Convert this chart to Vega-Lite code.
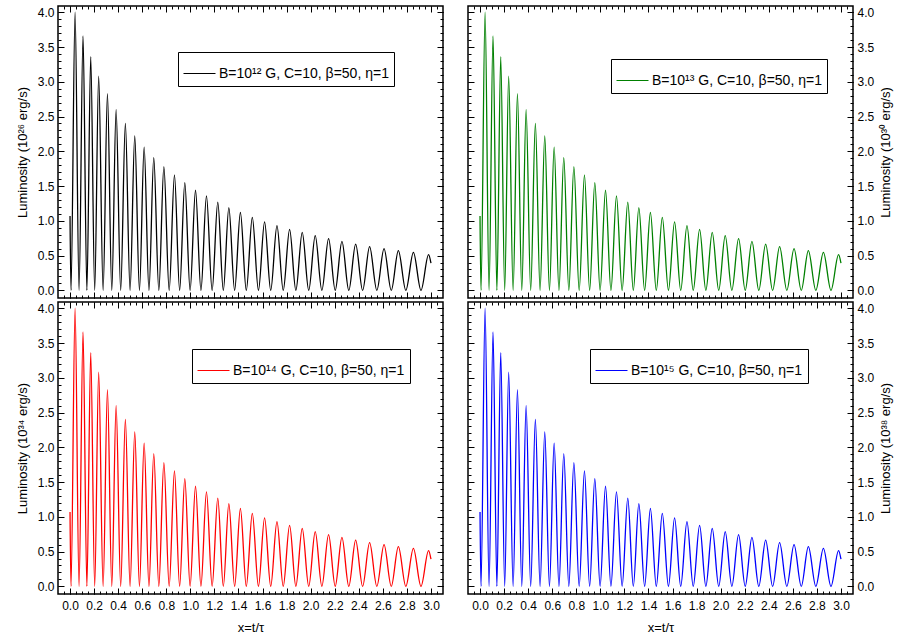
{
  "$schema": "https://vega.github.io/schema/vega-lite/v6.json",
  "background": "white",
  "padding": {"left": 15, "top": 4, "right": 0, "bottom": 0},
  "datasets": {
    "curve": [
      {"x": 0.000, "y": 1.07}, {"x": 0.008, "y": 0}, {"x": 0.042, "y": 4.00}, {"x": 0.075, "y": 0},
      {"x": 0.108, "y": 3.66}, {"x": 0.140, "y": 0}, {"x": 0.172, "y": 3.36}, {"x": 0.205, "y": 0},
      {"x": 0.238, "y": 3.08}, {"x": 0.275, "y": 0}, {"x": 0.311, "y": 2.83}, {"x": 0.347, "y": 0},
      {"x": 0.383, "y": 2.60}, {"x": 0.421, "y": 0}, {"x": 0.460, "y": 2.40}, {"x": 0.499, "y": 0},
      {"x": 0.538, "y": 2.22}, {"x": 0.577, "y": 0}, {"x": 0.616, "y": 2.06}, {"x": 0.656, "y": 0},
      {"x": 0.696, "y": 1.91}, {"x": 0.738, "y": 0}, {"x": 0.780, "y": 1.78}, {"x": 0.824, "y": 0},
      {"x": 0.868, "y": 1.66}, {"x": 0.911, "y": 0}, {"x": 0.954, "y": 1.55}, {"x": 0.998, "y": 0},
      {"x": 1.043, "y": 1.44}, {"x": 1.088, "y": 0}, {"x": 1.134, "y": 1.36}, {"x": 1.181, "y": 0},
      {"x": 1.228, "y": 1.27}, {"x": 1.274, "y": 0}, {"x": 1.320, "y": 1.19}, {"x": 1.368, "y": 0},
      {"x": 1.416, "y": 1.12}, {"x": 1.465, "y": 0}, {"x": 1.515, "y": 1.05}, {"x": 1.566, "y": 0},
      {"x": 1.617, "y": 0.985}, {"x": 1.668, "y": 0}, {"x": 1.720, "y": 0.93}, {"x": 1.772, "y": 0},
      {"x": 1.825, "y": 0.876}, {"x": 1.877, "y": 0}, {"x": 1.930, "y": 0.833}, {"x": 1.984, "y": 0},
      {"x": 2.038, "y": 0.786}, {"x": 2.093, "y": 0}, {"x": 2.149, "y": 0.743}, {"x": 2.204, "y": 0},
      {"x": 2.260, "y": 0.704}, {"x": 2.317, "y": 0}, {"x": 2.374, "y": 0.666}, {"x": 2.432, "y": 0},
      {"x": 2.490, "y": 0.628}, {"x": 2.550, "y": 0}, {"x": 2.610, "y": 0.600}, {"x": 2.670, "y": 0},
      {"x": 2.729, "y": 0.571}, {"x": 2.791, "y": 0}, {"x": 2.854, "y": 0.547}, {"x": 2.917, "y": 0},
      {"x": 2.980, "y": 0.514}, {"x": 3.000, "y": 0.39}
    ]
  },
  "vconcat": [
    {
      "spacing": 21,
      "resolve": {"scale": {"color": "independent"}, "legend": {"color": "independent"}},
      "hconcat": [
        {
          "width": 385, "height": 292,
          "data": {"name": "curve"},
          "layer": [
            {
              "mark": {"type": "line", "interpolate": "monotone", "strokeWidth": 1.3},
              "encoding": {
                "x": {"field": "x", "type": "quantitative", "scale": {"domain": [-0.1, 3.1], "nice": false, "zero": false},
                      "axis": {"orient": "bottom", "values": [0,0.2,0.4,0.6,0.8,1,1.2,1.4,1.6,1.8,2,2.2,2.4,2.6,2.8,3], "tickSize": -6, "labels": false, "title": null}},
                "y": {"field": "y", "type": "quantitative", "scale": {"domain": [-0.11, 4.09], "nice": false, "zero": false},
                      "axis": {"orient": "left", "values": [0,0.5,1,1.5,2,2.5,3,3.5,4], "format": ".1f", "tickSize": -6, "labelPadding": 10, "title": "Luminosity (10²⁶ erg/s)", "titlePadding": 8}},
                "color": {"datum": "B=10¹² G, C=10, β=50, η=1", "type": "nominal", "scale": {"range": ["#000000"]},
                          "legend": {"title": null, "orient": "none", "legendX": 120, "legendY": 46}}
              }
            },
            {
              "mark": {"type": "line", "strokeOpacity": 0},
              "encoding": {
                "x": {"field": "x", "type": "quantitative", "axis": {"orient": "bottom", "values": [-0.05,0,0.05,0.1,0.15,0.2,0.25,0.3,0.35,0.4,0.45,0.5,0.55,0.6,0.65,0.7,0.75,0.8,0.85,0.9,0.95,1,1.05,1.1,1.15,1.2,1.25,1.3,1.35,1.4,1.45,1.5,1.55,1.6,1.65,1.7,1.75,1.8,1.85,1.9,1.95,2,2.05,2.1,2.15,2.2,2.25,2.3,2.35,2.4,2.45,2.5,2.55,2.6,2.65,2.7,2.75,2.8,2.85,2.9,2.95,3,3.05], "tickSize": -3, "labels": false, "title": null}},
                "y": {"field": "y", "type": "quantitative", "axis": {"orient": "left", "values": [0,0.1,0.2,0.3,0.4,0.5,0.6,0.7,0.8,0.9,1,1.1,1.2,1.3,1.4,1.5,1.6,1.7,1.8,1.9,2,2.1,2.2,2.3,2.4,2.5,2.6,2.7,2.8,2.9,3,3.1,3.2,3.3,3.4,3.5,3.6,3.7,3.8,3.9,4], "tickSize": -3, "labels": false, "title": null}}
              }
            },
            {
              "mark": {"type": "line", "strokeOpacity": 0},
              "encoding": {
                "x": {"field": "x", "type": "quantitative", "axis": {"orient": "top", "values": [0,0.2,0.4,0.6,0.8,1,1.2,1.4,1.6,1.8,2,2.2,2.4,2.6,2.8,3], "tickSize": -6, "labels": false, "title": null}},
                "y": {"field": "y", "type": "quantitative", "axis": {"orient": "right", "values": [0,0.5,1,1.5,2,2.5,3,3.5,4], "tickSize": -6, "labels": false, "title": null}}
              }
            },
            {
              "mark": {"type": "line", "strokeOpacity": 0},
              "encoding": {
                "x": {"field": "x", "type": "quantitative", "axis": {"orient": "top", "values": [-0.05,0,0.05,0.1,0.15,0.2,0.25,0.3,0.35,0.4,0.45,0.5,0.55,0.6,0.65,0.7,0.75,0.8,0.85,0.9,0.95,1,1.05,1.1,1.15,1.2,1.25,1.3,1.35,1.4,1.45,1.5,1.55,1.6,1.65,1.7,1.75,1.8,1.85,1.9,1.95,2,2.05,2.1,2.15,2.2,2.25,2.3,2.35,2.4,2.45,2.5,2.55,2.6,2.65,2.7,2.75,2.8,2.85,2.9,2.95,3,3.05], "tickSize": -3, "labels": false, "title": null}},
                "y": {"field": "y", "type": "quantitative", "axis": {"orient": "right", "values": [0,0.1,0.2,0.3,0.4,0.5,0.6,0.7,0.8,0.9,1,1.1,1.2,1.3,1.4,1.5,1.6,1.7,1.8,1.9,2,2.1,2.2,2.3,2.4,2.5,2.6,2.7,2.8,2.9,3,3.1,3.2,3.3,3.4,3.5,3.6,3.7,3.8,3.9,4], "tickSize": -3, "labels": false, "title": null}}
              }
            }
          ],
          "resolve": {"axis": {"x": "independent", "y": "independent"}}
        },
        {
          "width": 385, "height": 292,
          "data": {"name": "curve"},
          "layer": [
            {
              "mark": {"type": "line", "interpolate": "monotone", "strokeWidth": 1.3},
              "encoding": {
                "x": {"field": "x", "type": "quantitative", "scale": {"domain": [-0.1, 3.1], "nice": false, "zero": false},
                      "axis": {"orient": "bottom", "values": [0,0.2,0.4,0.6,0.8,1,1.2,1.4,1.6,1.8,2,2.2,2.4,2.6,2.8,3], "tickSize": -6, "labels": false, "title": null}},
                "y": {"field": "y", "type": "quantitative", "scale": {"domain": [-0.11, 4.09], "nice": false, "zero": false},
                      "axis": {"orient": "right", "values": [0,0.5,1,1.5,2,2.5,3,3.5,4], "format": ".1f", "tickSize": -6, "labelPadding": 10, "title": "Luminosity (10³⁰ erg/s)", "titlePadding": 6, "titleAngle": -90, "titleBaseline": "top"}},
                "color": {"datum": "B=10¹³ G, C=10, β=50, η=1", "type": "nominal", "scale": {"range": ["#008000"]},
                          "legend": {"title": null, "orient": "none", "legendX": 143, "legendY": 53}}
              }
            },
            {
              "mark": {"type": "line", "strokeOpacity": 0},
              "encoding": {
                "x": {"field": "x", "type": "quantitative", "axis": {"orient": "bottom", "values": [-0.05,0,0.05,0.1,0.15,0.2,0.25,0.3,0.35,0.4,0.45,0.5,0.55,0.6,0.65,0.7,0.75,0.8,0.85,0.9,0.95,1,1.05,1.1,1.15,1.2,1.25,1.3,1.35,1.4,1.45,1.5,1.55,1.6,1.65,1.7,1.75,1.8,1.85,1.9,1.95,2,2.05,2.1,2.15,2.2,2.25,2.3,2.35,2.4,2.45,2.5,2.55,2.6,2.65,2.7,2.75,2.8,2.85,2.9,2.95,3,3.05], "tickSize": -3, "labels": false, "title": null}},
                "y": {"field": "y", "type": "quantitative", "axis": {"orient": "right", "values": [0,0.1,0.2,0.3,0.4,0.5,0.6,0.7,0.8,0.9,1,1.1,1.2,1.3,1.4,1.5,1.6,1.7,1.8,1.9,2,2.1,2.2,2.3,2.4,2.5,2.6,2.7,2.8,2.9,3,3.1,3.2,3.3,3.4,3.5,3.6,3.7,3.8,3.9,4], "tickSize": -3, "labels": false, "title": null}}
              }
            },
            {
              "mark": {"type": "line", "strokeOpacity": 0},
              "encoding": {
                "x": {"field": "x", "type": "quantitative", "axis": {"orient": "top", "values": [0,0.2,0.4,0.6,0.8,1,1.2,1.4,1.6,1.8,2,2.2,2.4,2.6,2.8,3], "tickSize": -6, "labels": false, "title": null}},
                "y": {"field": "y", "type": "quantitative", "axis": {"orient": "left", "values": [0,0.5,1,1.5,2,2.5,3,3.5,4], "tickSize": -6, "labels": false, "title": null}}
              }
            },
            {
              "mark": {"type": "line", "strokeOpacity": 0},
              "encoding": {
                "x": {"field": "x", "type": "quantitative", "axis": {"orient": "top", "values": [-0.05,0,0.05,0.1,0.15,0.2,0.25,0.3,0.35,0.4,0.45,0.5,0.55,0.6,0.65,0.7,0.75,0.8,0.85,0.9,0.95,1,1.05,1.1,1.15,1.2,1.25,1.3,1.35,1.4,1.45,1.5,1.55,1.6,1.65,1.7,1.75,1.8,1.85,1.9,1.95,2,2.05,2.1,2.15,2.2,2.25,2.3,2.35,2.4,2.45,2.5,2.55,2.6,2.65,2.7,2.75,2.8,2.85,2.9,2.95,3,3.05], "tickSize": -3, "labels": false, "title": null}},
                "y": {"field": "y", "type": "quantitative", "axis": {"orient": "left", "values": [0,0.1,0.2,0.3,0.4,0.5,0.6,0.7,0.8,0.9,1,1.1,1.2,1.3,1.4,1.5,1.6,1.7,1.8,1.9,2,2.1,2.2,2.3,2.4,2.5,2.6,2.7,2.8,2.9,3,3.1,3.2,3.3,3.4,3.5,3.6,3.7,3.8,3.9,4], "tickSize": -3, "labels": false, "title": null}}
              }
            }
          ],
          "resolve": {"axis": {"x": "independent", "y": "independent"}}
        }
      ]
    },
    {
      "spacing": 21,
      "resolve": {"scale": {"color": "independent"}, "legend": {"color": "independent"}},
      "hconcat": [
        {
          "width": 385, "height": 292,
          "data": {"name": "curve"},
          "layer": [
            {
              "mark": {"type": "line", "interpolate": "monotone", "strokeWidth": 1.3},
              "encoding": {
                "x": {"field": "x", "type": "quantitative", "scale": {"domain": [-0.1, 3.1], "nice": false, "zero": false},
                      "axis": {"orient": "bottom", "values": [0,0.2,0.4,0.6,0.8,1,1.2,1.4,1.6,1.8,2,2.2,2.4,2.6,2.8,3], "format": ".1f", "tickSize": -6, "labelPadding": 12, "title": "x=t/τ", "titlePadding": 10}},
                "y": {"field": "y", "type": "quantitative", "scale": {"domain": [-0.11, 4.09], "nice": false, "zero": false},
                      "axis": {"orient": "left", "values": [0,0.5,1,1.5,2,2.5,3,3.5,4], "format": ".1f", "tickSize": -6, "labelPadding": 10, "title": "Luminosity (10³⁴ erg/s)", "titlePadding": 8}},
                "color": {"datum": "B=10¹⁴ G, C=10, β=50, η=1", "type": "nominal", "scale": {"range": ["#ff0000"]},
                          "legend": {"title": null, "orient": "none", "legendX": 134, "legendY": 47}}
              }
            },
            {
              "mark": {"type": "line", "strokeOpacity": 0},
              "encoding": {
                "x": {"field": "x", "type": "quantitative", "axis": {"orient": "bottom", "values": [-0.05,0,0.05,0.1,0.15,0.2,0.25,0.3,0.35,0.4,0.45,0.5,0.55,0.6,0.65,0.7,0.75,0.8,0.85,0.9,0.95,1,1.05,1.1,1.15,1.2,1.25,1.3,1.35,1.4,1.45,1.5,1.55,1.6,1.65,1.7,1.75,1.8,1.85,1.9,1.95,2,2.05,2.1,2.15,2.2,2.25,2.3,2.35,2.4,2.45,2.5,2.55,2.6,2.65,2.7,2.75,2.8,2.85,2.9,2.95,3,3.05], "tickSize": -3, "labels": false, "title": null}},
                "y": {"field": "y", "type": "quantitative", "axis": {"orient": "left", "values": [0,0.1,0.2,0.3,0.4,0.5,0.6,0.7,0.8,0.9,1,1.1,1.2,1.3,1.4,1.5,1.6,1.7,1.8,1.9,2,2.1,2.2,2.3,2.4,2.5,2.6,2.7,2.8,2.9,3,3.1,3.2,3.3,3.4,3.5,3.6,3.7,3.8,3.9,4], "tickSize": -3, "labels": false, "title": null}}
              }
            },
            {
              "mark": {"type": "line", "strokeOpacity": 0},
              "encoding": {
                "x": {"field": "x", "type": "quantitative", "axis": {"orient": "top", "values": [0,0.2,0.4,0.6,0.8,1,1.2,1.4,1.6,1.8,2,2.2,2.4,2.6,2.8,3], "tickSize": -6, "labels": false, "title": null}},
                "y": {"field": "y", "type": "quantitative", "axis": {"orient": "right", "values": [0,0.5,1,1.5,2,2.5,3,3.5,4], "tickSize": -6, "labels": false, "title": null}}
              }
            },
            {
              "mark": {"type": "line", "strokeOpacity": 0},
              "encoding": {
                "x": {"field": "x", "type": "quantitative", "axis": {"orient": "top", "values": [-0.05,0,0.05,0.1,0.15,0.2,0.25,0.3,0.35,0.4,0.45,0.5,0.55,0.6,0.65,0.7,0.75,0.8,0.85,0.9,0.95,1,1.05,1.1,1.15,1.2,1.25,1.3,1.35,1.4,1.45,1.5,1.55,1.6,1.65,1.7,1.75,1.8,1.85,1.9,1.95,2,2.05,2.1,2.15,2.2,2.25,2.3,2.35,2.4,2.45,2.5,2.55,2.6,2.65,2.7,2.75,2.8,2.85,2.9,2.95,3,3.05], "tickSize": -3, "labels": false, "title": null}},
                "y": {"field": "y", "type": "quantitative", "axis": {"orient": "right", "values": [0,0.1,0.2,0.3,0.4,0.5,0.6,0.7,0.8,0.9,1,1.1,1.2,1.3,1.4,1.5,1.6,1.7,1.8,1.9,2,2.1,2.2,2.3,2.4,2.5,2.6,2.7,2.8,2.9,3,3.1,3.2,3.3,3.4,3.5,3.6,3.7,3.8,3.9,4], "tickSize": -3, "labels": false, "title": null}}
              }
            }
          ],
          "resolve": {"axis": {"x": "independent", "y": "independent"}}
        },
        {
          "width": 385, "height": 292,
          "data": {"name": "curve"},
          "layer": [
            {
              "mark": {"type": "line", "interpolate": "monotone", "strokeWidth": 1.3},
              "encoding": {
                "x": {"field": "x", "type": "quantitative", "scale": {"domain": [-0.1, 3.1], "nice": false, "zero": false},
                      "axis": {"orient": "bottom", "values": [0,0.2,0.4,0.6,0.8,1,1.2,1.4,1.6,1.8,2,2.2,2.4,2.6,2.8,3], "format": ".1f", "tickSize": -6, "labelPadding": 12, "title": "x=t/τ", "titlePadding": 10}},
                "y": {"field": "y", "type": "quantitative", "scale": {"domain": [-0.11, 4.09], "nice": false, "zero": false},
                      "axis": {"orient": "right", "values": [0,0.5,1,1.5,2,2.5,3,3.5,4], "format": ".1f", "tickSize": -6, "labelPadding": 10, "title": "Luminosity (10³⁸ erg/s)", "titlePadding": 6, "titleAngle": -90, "titleBaseline": "top"}},
                "color": {"datum": "B=10¹⁵ G, C=10, β=50, η=1", "type": "nominal", "scale": {"range": ["#0000ff"]},
                          "legend": {"title": null, "orient": "none", "legendX": 122, "legendY": 47}}
              }
            },
            {
              "mark": {"type": "line", "strokeOpacity": 0},
              "encoding": {
                "x": {"field": "x", "type": "quantitative", "axis": {"orient": "bottom", "values": [-0.05,0,0.05,0.1,0.15,0.2,0.25,0.3,0.35,0.4,0.45,0.5,0.55,0.6,0.65,0.7,0.75,0.8,0.85,0.9,0.95,1,1.05,1.1,1.15,1.2,1.25,1.3,1.35,1.4,1.45,1.5,1.55,1.6,1.65,1.7,1.75,1.8,1.85,1.9,1.95,2,2.05,2.1,2.15,2.2,2.25,2.3,2.35,2.4,2.45,2.5,2.55,2.6,2.65,2.7,2.75,2.8,2.85,2.9,2.95,3,3.05], "tickSize": -3, "labels": false, "title": null}},
                "y": {"field": "y", "type": "quantitative", "axis": {"orient": "right", "values": [0,0.1,0.2,0.3,0.4,0.5,0.6,0.7,0.8,0.9,1,1.1,1.2,1.3,1.4,1.5,1.6,1.7,1.8,1.9,2,2.1,2.2,2.3,2.4,2.5,2.6,2.7,2.8,2.9,3,3.1,3.2,3.3,3.4,3.5,3.6,3.7,3.8,3.9,4], "tickSize": -3, "labels": false, "title": null}}
              }
            },
            {
              "mark": {"type": "line", "strokeOpacity": 0},
              "encoding": {
                "x": {"field": "x", "type": "quantitative", "axis": {"orient": "top", "values": [0,0.2,0.4,0.6,0.8,1,1.2,1.4,1.6,1.8,2,2.2,2.4,2.6,2.8,3], "tickSize": -6, "labels": false, "title": null}},
                "y": {"field": "y", "type": "quantitative", "axis": {"orient": "left", "values": [0,0.5,1,1.5,2,2.5,3,3.5,4], "tickSize": -6, "labels": false, "title": null}}
              }
            },
            {
              "mark": {"type": "line", "strokeOpacity": 0},
              "encoding": {
                "x": {"field": "x", "type": "quantitative", "axis": {"orient": "top", "values": [-0.05,0,0.05,0.1,0.15,0.2,0.25,0.3,0.35,0.4,0.45,0.5,0.55,0.6,0.65,0.7,0.75,0.8,0.85,0.9,0.95,1,1.05,1.1,1.15,1.2,1.25,1.3,1.35,1.4,1.45,1.5,1.55,1.6,1.65,1.7,1.75,1.8,1.85,1.9,1.95,2,2.05,2.1,2.15,2.2,2.25,2.3,2.35,2.4,2.45,2.5,2.55,2.6,2.65,2.7,2.75,2.8,2.85,2.9,2.95,3,3.05], "tickSize": -3, "labels": false, "title": null}},
                "y": {"field": "y", "type": "quantitative", "axis": {"orient": "left", "values": [0,0.1,0.2,0.3,0.4,0.5,0.6,0.7,0.8,0.9,1,1.1,1.2,1.3,1.4,1.5,1.6,1.7,1.8,1.9,2,2.1,2.2,2.3,2.4,2.5,2.6,2.7,2.8,2.9,3,3.1,3.2,3.3,3.4,3.5,3.6,3.7,3.8,3.9,4], "tickSize": -3, "labels": false, "title": null}}
              }
            }
          ],
          "resolve": {"axis": {"x": "independent", "y": "independent"}}
        }
      ]
    }
  ],
  "spacing": 0,
  "resolve": {"scale": {"color": "independent"}, "legend": {"color": "independent"}},
  "config": {
    "font": "Liberation Sans",
    "view": {"stroke": "#000000", "strokeWidth": 1.5},
    "axis": {
      "grid": false, "domain": false, "tickColor": "#000000", "tickWidth": 1,
      "labelColor": "#000000", "labelFont": "Liberation Sans", "labelFontSize": 12, "labelFlush": false, "labelOverlap": false,
      "titleColor": "#000000", "titleFont": "Liberation Sans", "titleFontSize": 13, "titleFontWeight": "normal"
    },
    "legend": {
      "strokeColor": "#000000", "padding": 5, "symbolType": "stroke", "symbolSize": 1024, "symbolStrokeWidth": 1,
      "labelFont": "Liberation Sans", "labelFontSize": 14, "labelColor": "#000000", "labelLimit": 400, "labelOffset": 3
    }
  }
}
